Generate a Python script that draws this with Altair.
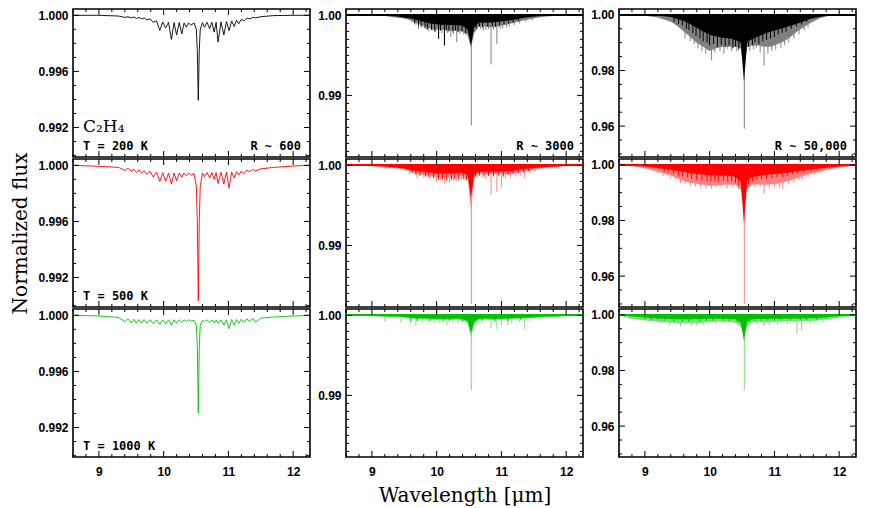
import altair as alt
import pandas as pd

# ---------------- data ----------------
X_DOMAIN = [8.6, 12.26]
Y_DOMAINS = [[0.9899, 1.00045], [0.9823, 1.0008], [0.9489, 1.0021]]

X_MAJOR = [9, 10, 11, 12]
X_MINOR = [8.6, 8.8, 9.2, 9.4, 9.6, 9.8, 10.2, 10.4, 10.6, 10.8, 11.2, 11.4, 11.6, 11.8, 12.2]
Y_MAJOR = [[0.992, 0.996, 1.000], [0.99, 1.00], [0.96, 0.98, 1.00]]
Y_MINOR = [
    [0.990, 0.991, 0.993, 0.994, 0.995, 0.997, 0.998, 0.999],
    [0.983, 0.984, 0.985, 0.986, 0.987, 0.988, 0.989, 0.991, 0.992, 0.993,
     0.994, 0.995, 0.996, 0.997, 0.998, 0.999],
    [0.950, 0.955, 0.965, 0.970, 0.975, 0.985, 0.990, 0.995],
]
Y_FORMAT = [".3f", ".2f", ".2f"]

TEMPS = ["T = 200 K", "T = 500 K", "T = 1000 K"]
RES = ["R ~ 600", "R ~ 3000", "R ~ 50,000"]
MOLECULE = "C\u2082H\u2084"

# R ~ 600 spectra (left column)
W_LO = [8.60, 9.00, 9.30, 9.40, 9.45, 9.50, 9.54, 9.58, 9.62, 9.66,
        9.70, 9.74, 9.79, 9.84, 9.89, 9.94, 9.985, 10.03, 10.075, 10.12,
        10.16, 10.20, 10.24, 10.28, 10.315, 10.35, 10.385, 10.42, 10.47, 10.505,
        10.52, 10.535, 10.55, 10.565, 10.60, 10.63, 10.67, 10.71, 10.745, 10.78,
        10.81, 10.84, 10.885, 10.93, 10.97, 11.01, 11.05, 11.09, 11.125, 11.16,
        11.20, 11.24, 11.285, 11.33, 11.375, 11.42, 11.50, 11.70, 12.00, 12.26]
F_LO_200 = [1.0000, 1.0000, 0.99995, 0.99985, 0.99990, 0.99982, 0.99988, 0.99978, 0.99985, 0.99975,
            0.99980, 0.99968, 0.99975, 0.99950, 0.99962, 0.99892, 0.99952, 0.99910, 0.99950, 0.99828,
            0.99948, 0.99860, 0.99948, 0.99868, 0.99945, 0.99915, 0.99945, 0.99930, 0.99945, 0.99900,
            0.99750, 0.99394, 0.99750, 0.99900, 0.99948, 0.99915, 0.99950, 0.99905, 0.99950, 0.99880,
            0.99950, 0.99809, 0.99952, 0.99860, 0.99955, 0.99890, 0.99960, 0.99920, 0.99965, 0.99940,
            0.99972, 0.99960, 0.99980, 0.99975, 0.99985, 0.99982, 0.99990, 0.99998, 1.0000, 1.0000]
F_LO_500 = [1.0000, 0.99993, 0.99985, 0.99965, 0.99978, 0.99958, 0.99972, 0.99950, 0.99968, 0.99945,
            0.99962, 0.99935, 0.99958, 0.99915, 0.99952, 0.99885, 0.99948, 0.99885, 0.99945, 0.99866,
            0.99945, 0.99890, 0.99945, 0.99915, 0.99945, 0.99925, 0.99945, 0.99930, 0.99940, 0.99850,
            0.99600, 0.99035, 0.99600, 0.99850, 0.99945, 0.99920, 0.99948, 0.99910, 0.99948, 0.99900,
            0.99948, 0.99870, 0.99950, 0.99866, 0.99950, 0.99837, 0.99952, 0.99910, 0.99955, 0.99930,
            0.99960, 0.99940, 0.99965, 0.99955, 0.99970, 0.99960, 0.99975, 0.99985, 0.99995, 1.0000]
F_LO_1000 = [1.0000, 0.99995, 0.99985, 0.99955, 0.99975, 0.99945, 0.99972, 0.99943, 0.99970, 0.99943,
             0.99970, 0.99943, 0.99968, 0.99940, 0.99968, 0.99935, 0.99968, 0.99940, 0.99968, 0.99929,
             0.99968, 0.99943, 0.99968, 0.99950, 0.99968, 0.99955, 0.99968, 0.99958, 0.99965, 0.99930,
             0.99780, 0.99303, 0.99780, 0.99930, 0.99965, 0.99955, 0.99968, 0.99950, 0.99968, 0.99945,
             0.99968, 0.99943, 0.99968, 0.99930, 0.99968, 0.99905, 0.99970, 0.99930, 0.99970, 0.99943,
             0.99972, 0.99950, 0.99975, 0.99955, 0.99978, 0.99950, 0.99980, 0.99988, 0.99995, 1.0000]

# Envelopes of the dense spectra (R ~ 3000 and R ~ 50,000)
W_ENV = [8.6, 8.8, 9.0, 9.2, 9.4, 9.5, 9.6, 9.7, 9.8, 9.9,
         10.0, 10.1, 10.2, 10.3, 10.4, 10.48, 10.53, 10.58, 10.65, 10.75,
         10.85, 10.95, 11.05, 11.15, 11.25, 11.35, 11.45, 11.55, 11.7, 11.85,
         12.0, 12.26]

MID_OUTER_200 = [1.0, 1.0, 0.99998, 0.99992, 0.9997, 0.9996, 0.99935, 0.9990, 0.9987, 0.9984,
                 0.9982, 0.9982, 0.9981, 0.9981, 0.9980, 0.9975, 0.9960, 0.9978, 0.9986, 0.9986,
                 0.9985, 0.9986, 0.9988, 0.9990, 0.9992, 0.9994, 0.99955, 0.9997, 0.99985, 0.99995,
                 1.0, 1.0]
MID_CORE_200 = [1.0, 1.0, 1.0, 0.99995, 0.99985, 0.9997, 0.9996, 0.9994, 0.9992, 0.9990,
                0.9989, 0.9988, 0.9988, 0.9988, 0.9987, 0.9982, 0.9962, 0.9985, 0.9991, 0.9991,
                0.9991, 0.9992, 0.9993, 0.9994, 0.99955, 0.9997, 0.9998, 0.99988, 0.99995, 1.0,
                1.0, 1.0]
MID_OUTER_500 = [1.0, 0.99997, 0.9999, 0.99975, 0.9996, 0.9995, 0.9992, 0.9990, 0.9988, 0.9987,
                 0.99855, 0.99855, 0.9985, 0.9986, 0.9987, 0.9983, 0.9945, 0.9985, 0.99895, 0.9989,
                 0.9989, 0.99895, 0.9989, 0.9990, 0.9991, 0.9993, 0.9994, 0.99955, 0.9997, 0.9998,
                 0.9999, 1.0]
MID_CORE_500 = [1.0, 1.0, 0.99995, 0.99985, 0.9997, 0.9996, 0.9994, 0.9993, 0.9992, 0.9991,
                0.9990, 0.9990, 0.9990, 0.99905, 0.9991, 0.9988, 0.9960, 0.9989, 0.9992, 0.9992,
                0.9992, 0.9992, 0.99925, 0.9993, 0.9994, 0.99955, 0.9996, 0.9997, 0.9998, 0.99985,
                0.99995, 1.0]
MID_OUTER_1000 = [1.0, 0.99995, 0.9999, 0.9998, 0.99975, 0.9997, 0.9996, 0.9995, 0.9995, 0.99945,
                  0.9994, 0.9994, 0.9994, 0.99945, 0.9994, 0.9990, 0.9972, 0.9988, 0.9994, 0.99945,
                  0.9994, 0.9994, 0.99945, 0.9995, 0.99955, 0.9996, 0.99965, 0.9997, 0.99975, 0.9998,
                  0.9999, 0.99995]
MID_CORE_1000 = [1.0, 1.0, 0.99995, 0.9999, 0.99985, 0.9998, 0.9997, 0.99965, 0.99965, 0.9996,
                 0.99958, 0.99958, 0.99958, 0.9996, 0.99958, 0.9993, 0.9978, 0.9992, 0.99958, 0.9996,
                 0.99958, 0.99958, 0.9996, 0.99965, 0.9997, 0.9997, 0.99975, 0.9998, 0.99985, 0.9999,
                 0.99995, 1.0]

HI_OUTER_200 = [1.0, 0.99995, 0.9997, 0.9990, 0.9975, 0.9960, 0.9940, 0.9920, 0.9900, 0.9885,
                0.9870, 0.9880, 0.9885, 0.9885, 0.9885, 0.9880, 0.9800, 0.9885, 0.9890, 0.9890,
                0.9885, 0.9885, 0.9895, 0.9905, 0.9920, 0.9940, 0.9955, 0.9970, 0.9988, 0.9997,
                1.0, 1.0]
HI_CORE_200 = [1.0, 1.0, 0.99995, 0.9998, 0.9992, 0.9985, 0.9978, 0.9967, 0.9954, 0.9940,
               0.9928, 0.9922, 0.9918, 0.9916, 0.9910, 0.9900, 0.9760, 0.9902, 0.9912, 0.9922,
               0.9932, 0.9940, 0.9947, 0.9954, 0.9961, 0.9968, 0.9976, 0.9985, 0.9993, 0.9998,
               1.0, 1.0]
HI_OUTER_500 = [0.99995, 0.9995, 0.9988, 0.9975, 0.9962, 0.9952, 0.9942, 0.9936, 0.9932, 0.9928,
                0.9925, 0.9926, 0.9928, 0.9928, 0.9928, 0.9910, 0.9860, 0.9915, 0.9928, 0.9930,
                0.9928, 0.9930, 0.9932, 0.9938, 0.9945, 0.9952, 0.9960, 0.9967, 0.9975, 0.9984,
                0.9990, 0.9998]
HI_CORE_500 = [1.0, 0.9998, 0.9994, 0.9988, 0.9982, 0.9978, 0.9974, 0.9970, 0.9967, 0.9965,
               0.9963, 0.9962, 0.9961, 0.9961, 0.9956, 0.9940, 0.9788, 0.9945, 0.9955, 0.9960,
               0.9964, 0.9966, 0.9967, 0.9970, 0.9973, 0.9977, 0.9980, 0.9983, 0.9987, 0.9990,
               0.9994, 0.9999]
HI_OUTER_1000 = [0.9998, 0.9985, 0.9980, 0.9975, 0.9972, 0.9970, 0.9970, 0.9970, 0.9970, 0.9972,
                 0.9974, 0.9975, 0.9975, 0.9974, 0.9972, 0.9955, 0.9930, 0.9960, 0.9972, 0.9974,
                 0.9972, 0.9974, 0.9975, 0.9976, 0.9976, 0.9976, 0.9977, 0.9978, 0.9980, 0.9984,
                 0.9990, 0.9996]
HI_CORE_1000 = [1.0, 0.9994, 0.9990, 0.9987, 0.9985, 0.9984, 0.9984, 0.9984, 0.9984, 0.9985,
                0.9986, 0.9986, 0.9986, 0.9985, 0.9984, 0.9972, 0.9908, 0.9975, 0.9984, 0.9985,
                0.9985, 0.9986, 0.9986, 0.9986, 0.9987, 0.9987, 0.9987, 0.9988, 0.9989, 0.9992,
                0.9995, 0.9999]

# Individual absorption lines, faint (centre wavelength, minimum flux)
MID_LINES_W_200 = [9.62, 9.68, 9.72, 9.78, 9.84, 9.88, 9.94, 9.98, 10.03, 10.08, 10.12, 10.17, 10.22,
                   10.26, 10.31, 10.36, 10.42, 10.535, 10.62, 10.68, 10.72, 10.76, 10.80, 10.84,
                   10.88, 10.93, 10.98, 11.02, 11.08, 11.12, 11.20, 11.28, 11.38, 11.48]
MID_LINES_F_200 = [0.9991, 0.9988, 0.9983, 0.9985, 0.9982, 0.9980, 0.9981, 0.9979, 0.99708, 0.9978,
                   0.99625, 0.9978, 0.9973, 0.9977, 0.99666, 0.9977, 0.9976, 0.98625, 0.9982, 0.9983,
                   0.9981, 0.9982, 0.9983, 0.99387, 0.9982, 0.99645, 0.9983, 0.9984, 0.9985, 0.9986,
                   0.9988, 0.9990, 0.9992, 0.9994]
MID_LINES_W_500 = [9.58, 9.70, 9.80, 9.90, 10.0, 10.06, 10.12, 10.20, 10.26, 10.31, 10.38, 10.44,
                   10.535, 10.62, 10.70, 10.76, 10.84, 10.93, 11.0, 11.06, 11.14, 11.22, 11.30,
                   11.36, 11.44, 11.52]
MID_LINES_F_500 = [0.9989, 0.99837, 0.9985, 0.9984, 0.99792, 0.9982, 0.9977, 0.99792, 0.9981, 0.9980,
                   0.9982, 0.9981, 0.9827, 0.9984, 0.9985, 0.9983, 0.99637, 0.9967, 0.9972, 0.9984,
                   0.9985, 0.9986, 0.9987, 0.9984, 0.9990, 0.9992]
MID_LINES_W_1000 = [9.20, 9.45, 9.60, 9.68, 9.78, 9.88, 9.96, 10.05, 10.16, 10.25, 10.33, 10.535,
                    10.84, 10.93, 11.0, 11.1, 11.16, 11.28, 11.36, 11.44, 11.6]
MID_LINES_F_1000 = [0.9992, 0.9991, 0.99896, 0.99875, 0.9991, 0.9991, 0.9990, 0.9990, 0.99875, 0.9991,
                    0.9990, 0.99062, 0.99841, 0.9983, 0.9986, 0.9988, 0.9990, 0.9992, 0.9983, 0.9993,
                    0.9994]

HI_LINES_W_200 = [9.62, 9.70, 9.76, 9.82, 9.88, 9.94, 10.03, 10.08, 10.16, 10.22, 10.27, 10.34,
                  10.42, 10.535, 10.62, 10.68, 10.72, 10.78, 10.84, 10.90, 10.96, 11.02, 11.10,
                  11.16, 11.22, 11.30, 11.38, 11.46, 11.52]
HI_LINES_F_200 = [0.9915, 0.9905, 0.9895, 0.9880, 0.9870, 0.9860, 0.9836, 0.9865, 0.9870, 0.9860,
                  0.9878, 0.9870, 0.9868, 0.9591, 0.9870, 0.9876, 0.9882, 0.9865, 0.9818, 0.9860,
                  0.9870, 0.9875, 0.9880, 0.9890, 0.9900, 0.9915, 0.9930, 0.9945, 0.9955]
HI_LINES_W_500 = [9.20, 9.28, 9.40, 9.48, 9.55, 9.62, 9.70, 9.78, 9.86, 9.94, 10.03, 10.10, 10.18,
                  10.27, 10.36, 10.44, 10.535, 10.62, 10.70, 10.78, 10.84, 10.92, 11.00, 11.08,
                  11.13, 11.22, 11.30, 11.38, 11.43, 11.52, 11.62, 11.72, 11.85]
HI_LINES_F_500 = [0.9968, 0.9960, 0.9950, 0.9945, 0.9935, 0.9930, 0.9925, 0.9922, 0.9920, 0.9915,
                  0.9914, 0.9918, 0.9920, 0.9915, 0.9918, 0.9912, 0.9501, 0.9920, 0.9918, 0.9922,
                  0.9896, 0.9918, 0.9920, 0.9918, 0.9915, 0.9930, 0.9935, 0.9945, 0.9948, 0.9955,
                  0.9965, 0.9972, 0.9980]
HI_LINES_W_1000 = [9.05, 9.25, 9.38, 9.55, 9.62, 9.72, 9.80, 9.90, 10.10, 10.22, 10.535, 10.74,
                   10.84, 10.92, 11.05, 11.20, 11.35, 11.42, 11.55, 11.75]
HI_LINES_F_1000 = [0.9975, 0.9968, 0.9965, 0.9958, 0.9965, 0.9962, 0.9960, 0.9965, 0.9966, 0.9968,
                   0.9729, 0.9966, 0.9960, 0.9962, 0.9965, 0.9966, 0.9932, 0.9943, 0.9968, 0.9972]

# Individual absorption lines, strong colour (centre wavelength, minimum flux)
MID_DARK_W_200 = [9.66, 9.72, 9.76, 9.82, 9.86, 9.92, 9.97, 10.03, 10.06, 10.12, 10.15, 10.19, 10.25,
                  10.29, 10.33, 10.39, 10.45, 10.61, 10.66, 10.71, 10.79, 10.86, 10.91, 10.97, 11.04,
                  11.11, 11.18, 11.26]
MID_DARK_F_200 = [0.9990, 0.9987, 0.9986, 0.9984, 0.9983, 0.9982, 0.9980, 0.99708, 0.9981, 0.99625,
                  0.9981, 0.9980, 0.9980, 0.9981, 0.9979, 0.9980, 0.9978, 0.9984, 0.9986, 0.9985,
                  0.9986, 0.9987, 0.9986, 0.9988, 0.9989, 0.9990, 0.9991, 0.9993]
MID_DARK_W_500 = [9.62, 9.68, 9.74, 9.83, 9.88, 9.95, 10.03, 10.09, 10.15, 10.23, 10.28, 10.34, 10.41,
                  10.46, 10.60, 10.66, 10.73, 10.80, 10.88, 10.96, 11.03, 11.10, 11.18, 11.26, 11.34,
                  11.42]
MID_DARK_F_500 = [0.9990, 0.9988, 0.9987, 0.9986, 0.9985, 0.9984, 0.9982, 0.9983, 0.9981, 0.9982,
                  0.9983, 0.9982, 0.9983, 0.9982, 0.9986, 0.9987, 0.9986, 0.9987, 0.9986, 0.9987,
                  0.9986, 0.9988, 0.9989, 0.9990, 0.9991, 0.9993]
MID_DARK_W_1000 = [9.6, 9.7, 9.9, 10.1, 10.2, 10.4, 10.7, 10.9, 11.1, 11.3]
MID_DARK_F_1000 = [0.9993, 0.9993, 0.9993, 0.9992, 0.9993, 0.9992, 0.9993, 0.9992, 0.9993, 0.9994]

HI_DARK_W_200 = [9.45, 9.52, 9.58, 9.64, 9.68, 9.74, 9.79, 9.85, 9.90, 9.96, 10.00, 10.06, 10.12,
                 10.18, 10.24, 10.30, 10.36, 10.40, 10.45, 10.60, 10.66, 10.70, 10.76, 10.82, 10.88,
                 10.94, 11.00, 11.06, 11.12, 11.18, 11.26, 11.34, 11.42, 11.50]
HI_DARK_F_200 = [0.9975, 0.9968, 0.9962, 0.9950, 0.9945, 0.9935, 0.9925, 0.9915, 0.9905, 0.9900,
                 0.9890, 0.9895, 0.9885, 0.9892, 0.9885, 0.9890, 0.9880, 0.9885, 0.9875, 0.9885,
                 0.9890, 0.9900, 0.9895, 0.9905, 0.9910, 0.9915, 0.9920, 0.9930, 0.9935, 0.9940,
                 0.9950, 0.9958, 0.9965, 0.9975]
HI_DARK_W_500 = [9.30, 9.36, 9.44, 9.52, 9.58, 9.66, 9.72, 9.80, 9.88, 9.96, 10.02, 10.08, 10.14,
                 10.21, 10.28, 10.34, 10.40, 10.45, 10.60, 10.66, 10.73, 10.80, 10.88, 10.96, 11.04,
                 11.12, 11.20, 11.28, 11.36, 11.46, 11.56, 11.66]
HI_DARK_F_500 = [0.9975, 0.9972, 0.9968, 0.9962, 0.9958, 0.9955, 0.9950, 0.9948, 0.9945, 0.9942,
                 0.9940, 0.9943, 0.9940, 0.9942, 0.9938, 0.9940, 0.9935, 0.9925, 0.9930, 0.9940,
                 0.9945, 0.9948, 0.9950, 0.9952, 0.9955, 0.9956, 0.9960, 0.9965, 0.9968, 0.9972,
                 0.9976, 0.9980]
HI_DARK_W_1000 = [9.0, 9.1, 9.2, 9.3, 9.45, 9.58, 9.68, 9.85, 9.95, 10.05, 10.2, 10.3, 10.42, 10.62,
                  10.7, 10.8, 10.9, 11.0, 11.1, 11.25, 11.4, 11.5, 11.65, 11.8]
HI_DARK_F_1000 = [0.9984, 0.9982, 0.9980, 0.9978, 0.9977, 0.9976, 0.9977, 0.9976, 0.9978, 0.9979,
                  0.9979, 0.9978, 0.9975, 0.9975, 0.9978, 0.9979, 0.9980, 0.9980, 0.9979, 0.9980,
                  0.9981, 0.9982, 0.9983, 0.9986]

ROW_COLORS = ["#000000", "#ff0000", "#00c000"]
ROW_LIGHT = ["#808080", "#ff8080", "#80dd80"]

LO_FLUX = [F_LO_200, F_LO_500, F_LO_1000]
ENV = {
    1: [(MID_OUTER_200, MID_CORE_200), (MID_OUTER_500, MID_CORE_500), (MID_OUTER_1000, MID_CORE_1000)],
    2: [(HI_OUTER_200, HI_CORE_200), (HI_OUTER_500, HI_CORE_500), (HI_OUTER_1000, HI_CORE_1000)],
}
LINES = {
    1: [(MID_LINES_W_200, MID_LINES_F_200), (MID_LINES_W_500, MID_LINES_F_500),
        (MID_LINES_W_1000, MID_LINES_F_1000)],
    2: [(HI_LINES_W_200, HI_LINES_F_200), (HI_LINES_W_500, HI_LINES_F_500),
        (HI_LINES_W_1000, HI_LINES_F_1000)],
}
DARK = {
    1: [(MID_DARK_W_200, MID_DARK_F_200), (MID_DARK_W_500, MID_DARK_F_500),
        (MID_DARK_W_1000, MID_DARK_F_1000)],
    2: [(HI_DARK_W_200, HI_DARK_F_200), (HI_DARK_W_500, HI_DARK_F_500),
        (HI_DARK_W_1000, HI_DARK_F_1000)],
}

# ---------------- chart ----------------
W, H = 237, 148
LABEL_FONT = "Liberation Sans"
TITLE_FONT = "DejaVu Serif"
MONO = "DejaVu Sans Mono"
MAJ, MIN = 6, 3


def panel(c, r):
    xs = alt.Scale(domain=X_DOMAIN, nice=False, zero=False)
    ys = alt.Scale(domain=Y_DOMAINS[c], nice=False, zero=False)
    yaxis = alt.Axis(values=Y_MAJOR[c], format=Y_FORMAT[c], ticks=False, domain=False, grid=False,
                     labelFont=LABEL_FONT, labelFontSize=12, labelFontWeight="bold",
                     labelColor="black", labelPadding=5,
                     title="Normalized flux" if (c == 0 and r == 1) else None,
                     titleFont=TITLE_FONT, titleFontSize=20, titleFontWeight="normal",
                     titleColor="black", titlePadding=7)
    if r == 2:
        xaxis = alt.Axis(values=X_MAJOR, format="d", ticks=False, domain=False, grid=False,
                         labelFont=LABEL_FONT, labelFontSize=12, labelFontWeight="bold",
                         labelColor="black", labelPadding=9,
                         title="Wavelength [\u03bcm]" if c == 1 else None,
                         titleFont=TITLE_FONT, titleFontSize=20, titleFontWeight="normal",
                         titleColor="black", titlePadding=8)
    else:
        xaxis = None
    X = lambda f: alt.X(f, type="quantitative", scale=xs, axis=xaxis)
    Y = lambda f: alt.Y(f, type="quantitative", scale=ys, axis=yaxis)

    layers = []
    color = ROW_COLORS[r]
    light = ROW_LIGHT[r]
    if c == 0:
        df = pd.DataFrame({"w": W_LO, "f": LO_FLUX[r]})
        layers.append(alt.Chart(df).mark_line(color=color, strokeWidth=0.9, clip=True)
                      .encode(x=X("w"), y=Y("f")))
    else:
        outer, core = ENV[c][r]
        df = pd.DataFrame({"w": W_ENV, "outer": outer, "core": core})
        layers.append(alt.Chart(df).mark_area(color=light, clip=True, opacity=1)
                      .encode(x=X("w"), y=Y("outer"), y2=alt.datum(1.0)))
        lw, lf = LINES[c][r]
        dl = pd.DataFrame({"w": lw, "f": lf})
        layers.append(alt.Chart(dl).mark_rule(color=light, strokeWidth=1, clip=True)
                      .encode(x=X("w"), y=Y("f"), y2=alt.datum(1.0)))
        layers.append(alt.Chart(df).mark_area(color=color, clip=True, opacity=1)
                      .encode(x=X("w"), y=Y("core"), y2=alt.datum(1.0)))
        dw, dfl = DARK[c][r]
        dd = pd.DataFrame({"w": dw, "f": dfl})
        layers.append(alt.Chart(dd).mark_rule(color=color, strokeWidth=1, clip=True)
                      .encode(x=X("w"), y=Y("f"), y2=alt.datum(1.0)))
        layers.append(alt.Chart(df).mark_rule(color=color, strokeWidth=1)
                      .encode(y=alt.datum(1.0)))

    # inward ticks on all four sides
    for vals, L in [(X_MAJOR, MAJ), (X_MINOR, MIN)]:
        d = pd.DataFrame({"t": vals})
        layers.append(alt.Chart(d).mark_rule(color="black", strokeWidth=1)
                      .encode(x=alt.X("t:Q", scale=xs), y=alt.value(0), y2=alt.value(L)))
        layers.append(alt.Chart(d).mark_rule(color="black", strokeWidth=1)
                      .encode(x=alt.X("t:Q", scale=xs), y=alt.value(H - L), y2=alt.value(H)))
    for vals, L in [(Y_MAJOR[c], MAJ), (Y_MINOR[c], MIN)]:
        d = pd.DataFrame({"t": vals})
        layers.append(alt.Chart(d).mark_rule(color="black", strokeWidth=1)
                      .encode(y=alt.Y("t:Q", scale=ys), x=alt.value(0), x2=alt.value(L)))
        layers.append(alt.Chart(d).mark_rule(color="black", strokeWidth=1)
                      .encode(y=alt.Y("t:Q", scale=ys), x=alt.value(W - L), x2=alt.value(W)))

    # annotations
    if c == 0:
        layers.append(alt.Chart(pd.DataFrame({"s": [TEMPS[r]]})).mark_text(
            font=MONO, fontSize=12, fontWeight="bold", align="left", baseline="middle", color="black"
        ).encode(text="s:N", x=alt.value(10), y=alt.value(137)))
    if r == 0:
        layers.append(alt.Chart(pd.DataFrame({"s": [RES[c]]})).mark_text(
            font=MONO, fontSize=12, fontWeight="bold", align="right", baseline="middle", color="black"
        ).encode(text="s:N", x=alt.value(W - 9), y=alt.value(137)))
    if c == 0 and r == 0:
        layers.append(alt.Chart(pd.DataFrame({"s": [MOLECULE]})).mark_text(
            font=TITLE_FONT, fontSize=17, align="left", baseline="middle", color="black"
        ).encode(text="s:N", x=alt.value(10), y=alt.value(118)))

    return alt.layer(*layers).properties(width=W, height=H)


panels = [panel(c, r) for r in range(3) for c in range(3)]
chart = (alt.concat(*panels, columns=3, spacing=alt.RowColnumber(row=2, column=36), bounds="flush")
         .resolve_scale(x="independent", y="independent")
         .properties(padding={"left": 2, "top": -1, "right": 5, "bottom": 0}, background="white")
         .configure_view(stroke="black", strokeWidth=1.6))

chart.save("out.html", embed_options={"renderer": "svg", "actions": False})
